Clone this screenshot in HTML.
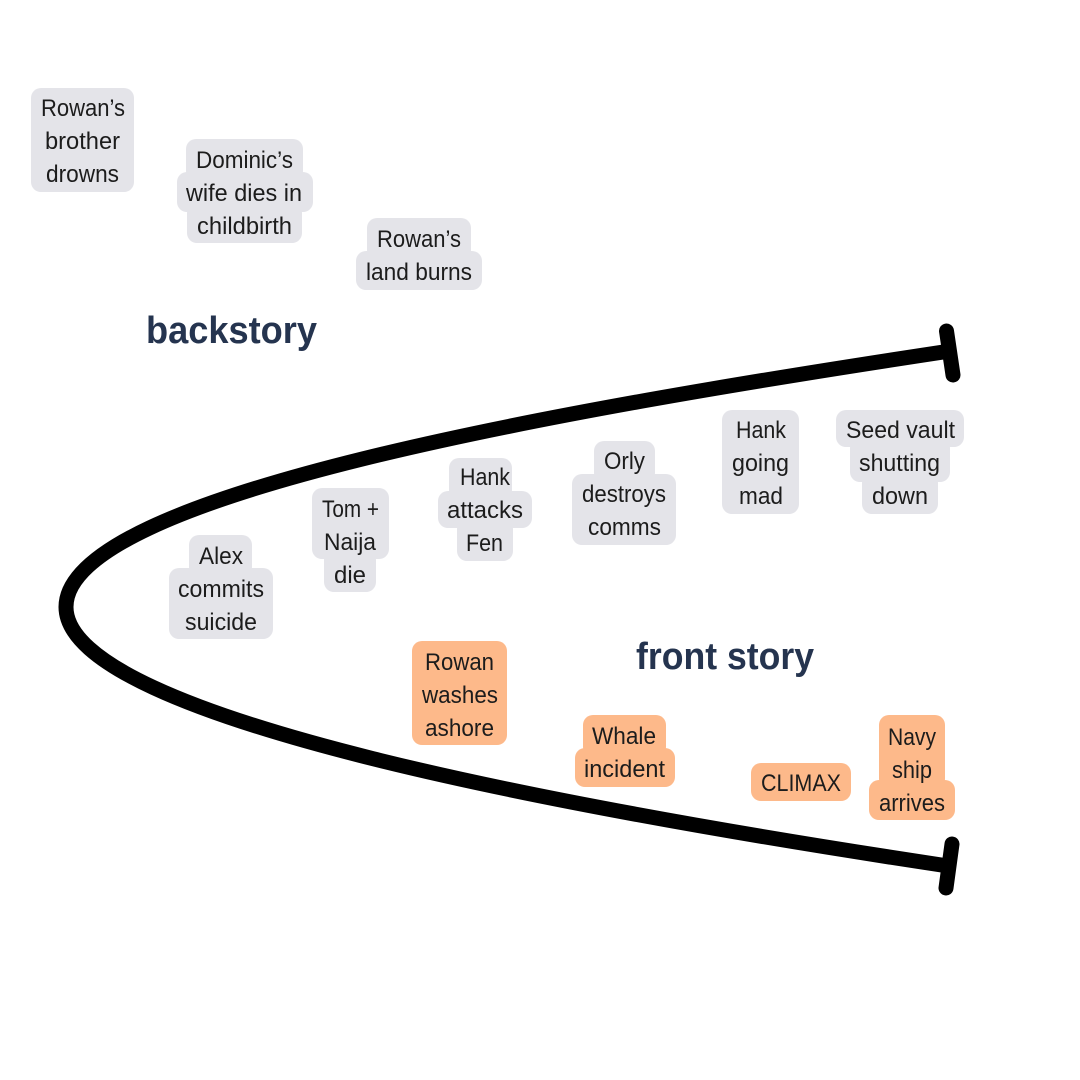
<!DOCTYPE html>
<html lang="en">
<head>
<meta charset="utf-8">
<title>Backstory and front story</title>
<style>
html,body{margin:0;padding:0;background:#fff}
svg{display:block}
.g{fill:#e4e4e9}
.o{fill:#fdb98a}
.t{font-family:"Liberation Sans",sans-serif;font-size:24px;fill:#1c1c1c}
.h{font-family:"Liberation Sans",sans-serif;font-size:38px;font-weight:700;fill:#25344f}
</style>
</head>
<body>
<svg width="1080" height="1080" viewBox="0 0 1080 1080" xmlns="http://www.w3.org/2000/svg">
<rect width="1080" height="1080" fill="#fff"/>

<path d="M950 351C560 410 66 495 66 607C66 720 590 812 948 866" fill="none" stroke="#000" stroke-width="15"/>
<path d="M946.5 331L953 375" stroke="#000" stroke-width="15" stroke-linecap="round"/>
<path d="M952 844L946 888" stroke="#000" stroke-width="15" stroke-linecap="round"/>

<g class="g">
<rect x="31" y="88" width="103" height="104" rx="10"/>

<rect x="186" y="139" width="117" height="42" rx="10"/>
<rect x="177" y="172" width="136" height="40" rx="10"/>
<rect x="187" y="203" width="115" height="40" rx="10"/>

<rect x="367" y="218" width="104" height="42" rx="10"/>
<rect x="356" y="251" width="126" height="39" rx="10"/>

<rect x="189" y="535" width="63" height="42" rx="10"/>
<rect x="169" y="568" width="104" height="71" rx="10"/>

<rect x="312" y="488" width="77" height="71" rx="10"/>
<rect x="324" y="550" width="52" height="42" rx="10"/>

<rect x="449" y="458" width="63" height="42" rx="10"/>
<rect x="438" y="491" width="94" height="37" rx="10"/>
<rect x="457" y="519" width="56" height="42" rx="10"/>

<rect x="594" y="441" width="61" height="42" rx="10"/>
<rect x="572" y="474" width="104" height="71" rx="10"/>

<rect x="722" y="410" width="77" height="104" rx="10"/>

<rect x="836" y="410" width="128" height="37" rx="10"/>
<rect x="850" y="438" width="100" height="44" rx="10"/>
<rect x="862" y="473" width="76" height="41" rx="10"/>
</g>

<g class="o">
<rect x="412" y="641" width="95" height="104" rx="10"/>

<rect x="583" y="715" width="83" height="42" rx="10"/>
<rect x="575" y="748" width="100" height="39" rx="10"/>

<rect x="751" y="763" width="100" height="38" rx="10"/>

<rect x="879" y="715" width="66" height="74" rx="10"/>
<rect x="869" y="780" width="86" height="40" rx="10"/>
</g>

<g class="t">
<text x="41" y="116" textLength="84" lengthAdjust="spacingAndGlyphs">Rowan’s</text>
<text x="45" y="149" textLength="75" lengthAdjust="spacingAndGlyphs">brother</text>
<text x="46" y="182" textLength="73" lengthAdjust="spacingAndGlyphs">drowns</text>

<text x="196" y="168" textLength="97" lengthAdjust="spacingAndGlyphs">Dominic’s</text>
<text x="186" y="201" textLength="116" lengthAdjust="spacingAndGlyphs">wife dies in</text>
<text x="197" y="234" textLength="95" lengthAdjust="spacingAndGlyphs">childbirth</text>

<text x="377" y="247" textLength="84" lengthAdjust="spacingAndGlyphs">Rowan’s</text>
<text x="366" y="280" textLength="106" lengthAdjust="spacingAndGlyphs">land burns</text>

<text x="199" y="564" textLength="44" lengthAdjust="spacingAndGlyphs">Alex</text>
<text x="178" y="597" textLength="86" lengthAdjust="spacingAndGlyphs">commits</text>
<text x="185" y="630" textLength="72" lengthAdjust="spacingAndGlyphs">suicide</text>

<text x="322" y="517" textLength="57" lengthAdjust="spacingAndGlyphs">Tom +</text>
<text x="324" y="550" textLength="52" lengthAdjust="spacingAndGlyphs">Naija</text>
<text x="334" y="583" textLength="32" lengthAdjust="spacingAndGlyphs">die</text>

<text x="460" y="485" textLength="50" lengthAdjust="spacingAndGlyphs">Hank</text>
<text x="447" y="518" textLength="76" lengthAdjust="spacingAndGlyphs">attacks</text>
<text x="466" y="551" textLength="37" lengthAdjust="spacingAndGlyphs">Fen</text>

<text x="604" y="469" textLength="41" lengthAdjust="spacingAndGlyphs">Orly</text>
<text x="582" y="502" textLength="84" lengthAdjust="spacingAndGlyphs">destroys</text>
<text x="588" y="535" textLength="73" lengthAdjust="spacingAndGlyphs">comms</text>

<text x="736" y="438" textLength="50" lengthAdjust="spacingAndGlyphs">Hank</text>
<text x="732" y="471" textLength="57" lengthAdjust="spacingAndGlyphs">going</text>
<text x="739" y="504" textLength="44" lengthAdjust="spacingAndGlyphs">mad</text>

<text x="846" y="438" textLength="109" lengthAdjust="spacingAndGlyphs">Seed vault</text>
<text x="859" y="471" textLength="81" lengthAdjust="spacingAndGlyphs">shutting</text>
<text x="872" y="504" textLength="56" lengthAdjust="spacingAndGlyphs">down</text>

<text x="425" y="670" textLength="69" lengthAdjust="spacingAndGlyphs">Rowan</text>
<text x="422" y="703" textLength="76" lengthAdjust="spacingAndGlyphs">washes</text>
<text x="425" y="736" textLength="69" lengthAdjust="spacingAndGlyphs">ashore</text>

<text x="592" y="744" textLength="64" lengthAdjust="spacingAndGlyphs">Whale</text>
<text x="584" y="777" textLength="81" lengthAdjust="spacingAndGlyphs">incident</text>

<text x="761" y="791" textLength="80" lengthAdjust="spacingAndGlyphs">CLIMAX</text>

<text x="888" y="745" textLength="48" lengthAdjust="spacingAndGlyphs">Navy</text>
<text x="892" y="778" textLength="40" lengthAdjust="spacingAndGlyphs">ship</text>
<text x="879" y="811" textLength="66" lengthAdjust="spacingAndGlyphs">arrives</text>
</g>

<text class="h" x="146" y="343" textLength="171" lengthAdjust="spacingAndGlyphs">backstory</text>
<text class="h" x="636" y="669" textLength="178" lengthAdjust="spacingAndGlyphs">front story</text>
</svg>
</body>
</html>
